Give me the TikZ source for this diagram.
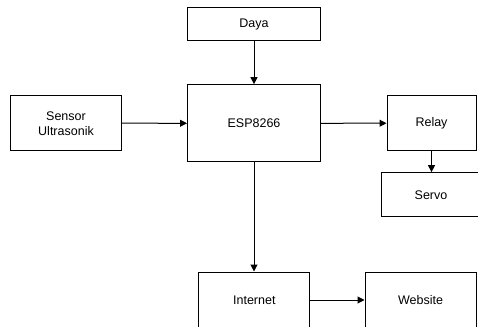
\documentclass[tikz,border=0pt]{standalone}
\usepackage{fontspec}
\setmainfont{Liberation Sans}
\usepackage{tikz}
\usetikzlibrary{arrows.meta}

\begin{document}
\begin{tikzpicture}[
    x=1pt,y=-1pt,
    blok/.style={draw,line width=1pt,inner sep=0pt,align=center,
      font=\fontsize{12.5}{15}\selectfont},
    panah/.style={line width=1pt,-{Triangle[length=7pt,width=7pt]}}
    ]
    \useasboundingbox (0,0) rectangle (478,326);
    \clip (0,0) rectangle (478,326);
    \node[blok,minimum width=133pt,minimum height=33.4pt] (daya) at (254,24) {Daya};
    \node[blok,minimum width=133pt,minimum height=77.3pt] (esp) at (254,123.3) {ESP8266};
    \node[blok,minimum width=110.6pt,minimum height=55pt] (sensor) at (66,123.2) {Sensor\\Ultrasonik};
    \node[blok,minimum width=89pt,minimum height=55pt] (relay) at (431.5,123.2) {Relay};
    \node[blok,minimum width=98.6pt,minimum height=44.3pt] (servo) at (431,194.8) {Servo};
    \node[blok,minimum width=110.7pt,minimum height=56pt] (internet) at (254.3,300) {Internet};
    \node[blok,minimum width=111pt,minimum height=56pt] (website) at (420.5,300) {Website};
    \draw[panah] (daya) -- (esp);
    \draw[panah] (sensor) -- (esp);
    \draw[panah] (esp) -- (relay);
    \draw[panah] (relay.south) -- (relay.south |- servo.north);
    \draw[panah] (esp.south) -- (esp.south |- internet.north);
    \draw[panah] (internet) -- (website);
  \end{tikzpicture}
\end{document}
